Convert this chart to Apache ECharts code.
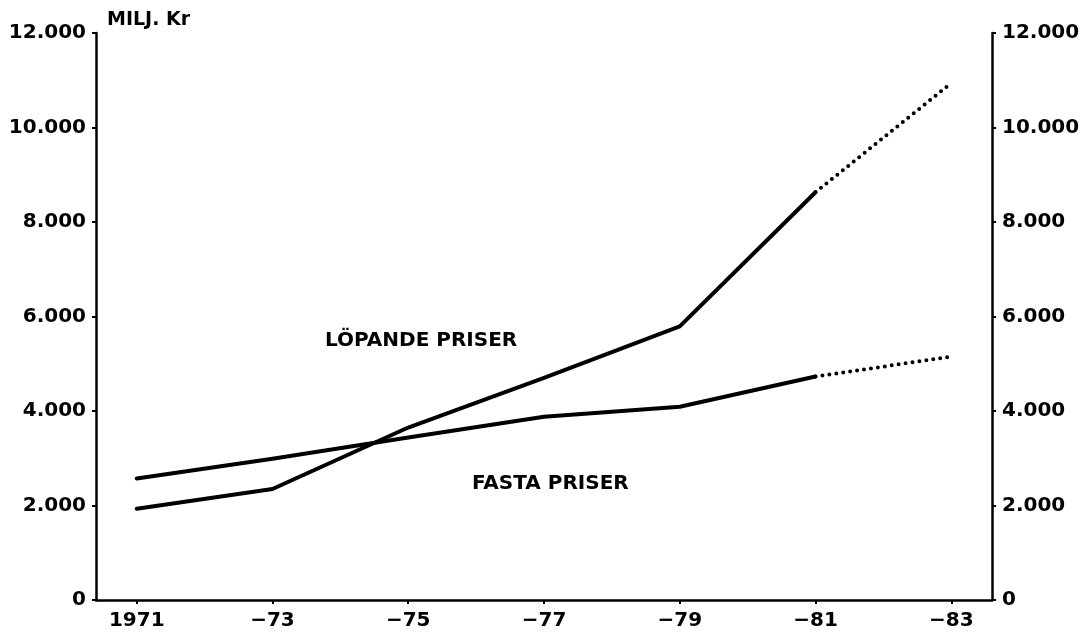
<!DOCTYPE html>
<html>
<head>
<meta charset="utf-8">
<script src="https://cdn.jsdelivr.net/npm/echarts@6/dist/echarts.min.js"></script>
<style>html,body{margin:0;padding:0;background:#fff;}#c{width:1092px;height:634px;}</style>
</head>
<body>
<div id="c"></div>
<script>
var years = [1971, 1973, 1975, 1977, 1979, 1981];
var lopande = [1930, 2350, 3650, 4700, 5790, 8630];
var fasta = [2570, 2990, 3440, 3880, 4090, 4730];
var forecastYears = [1981, 1983];
var lopandeForecast = [8630, 10940];
var fastaForecast = [4730, 5150];
var xTickYears = [1971, 1973, 1975, 1977, 1979, 1981, 1983];
var xTickLabels = ['1971', '\u221273', '\u221275', '\u221277', '\u221279', '\u221281', '\u221283'];
var yTicks = [0, 2000, 4000, 6000, 8000, 10000, 12000];
var yTickLabels = ['0', '2.000', '4.000', '6.000', '8.000', '10.000', '12.000'];
var unitLabel = 'MILJ. Kr';
var seriesNames = ['LÖPANDE PRISER', 'FASTA PRISER'];

function pairs(xs, ys) { return xs.map(function (x, i) { return [x, ys[i]]; }); }

var FONT = 'DejaVu Sans';
var labelStyle = { color: '#000', fontFamily: FONT, fontWeight: 'bold', fontSize: 20 };

function yAxis(pos) {
  return {
    type: 'value', position: pos, min: 0, max: 12000, interval: 2000,
    axisLine: { show: true, lineStyle: { color: '#000', width: 2.5 } },
    axisTick: { show: true, length: 4, lineStyle: { color: '#000', width: 2 } },
    splitLine: { show: false },
    axisLabel: Object.assign({ margin: 10, formatter: function (v) { return yTickLabels[yTicks.indexOf(v)]; } }, labelStyle)
  };
}

var chart = echarts.init(document.getElementById('c'));
chart.setOption({
  animation: false,
  backgroundColor: '#fff',
  grid: { left: 96, right: 100, top: 33, bottom: 34, containLabel: false },
  xAxis: {
    type: 'value', min: 1970.4, max: 1983.6,
    axisLine: { show: true, onZero: false, lineStyle: { color: '#000', width: 2.5 } },
    axisTick: { show: true, length: 4, customValues: xTickYears, lineStyle: { color: '#000', width: 2 } },
    splitLine: { show: false },
    axisLabel: Object.assign({
      margin: 11, customValues: xTickYears,
      formatter: function (v) { return xTickLabels[xTickYears.indexOf(Math.round(v))]; }
    }, labelStyle)
  },
  yAxis: [yAxis('left'), yAxis('right')],
  series: [
    { name: seriesNames[0], type: 'line', data: pairs(years, lopande), symbol: 'none',
      lineStyle: { color: '#000', width: 4, cap: 'round', join: 'round' } },
    { name: seriesNames[1], type: 'line', data: pairs(years, fasta), symbol: 'none',
      lineStyle: { color: '#000', width: 4, cap: 'round', join: 'round' } },
    { name: seriesNames[0] + ' prognos', type: 'line', data: pairs(forecastYears, lopandeForecast), symbol: 'none',
      lineStyle: { color: '#000', width: 4, type: [0, 7], cap: 'round' } },
    { name: seriesNames[1] + ' prognos', type: 'line', data: pairs(forecastYears, fastaForecast), symbol: 'none',
      lineStyle: { color: '#000', width: 4, type: [0, 7], cap: 'round' } }
  ],
  graphic: [
    { type: 'text', left: 107, top: 11, style: { text: unitLabel, fill: '#000', font: 'bold 19px "DejaVu Sans"' } },
    { type: 'text', left: 325, top: 331, style: { text: seriesNames[0], fill: '#000', font: 'bold 20px "DejaVu Sans"' } },
    { type: 'text', left: 472, top: 474, style: { text: seriesNames[1], fill: '#000', font: 'bold 20px "DejaVu Sans"' } }
  ]
});
</script>
</body>
</html>
